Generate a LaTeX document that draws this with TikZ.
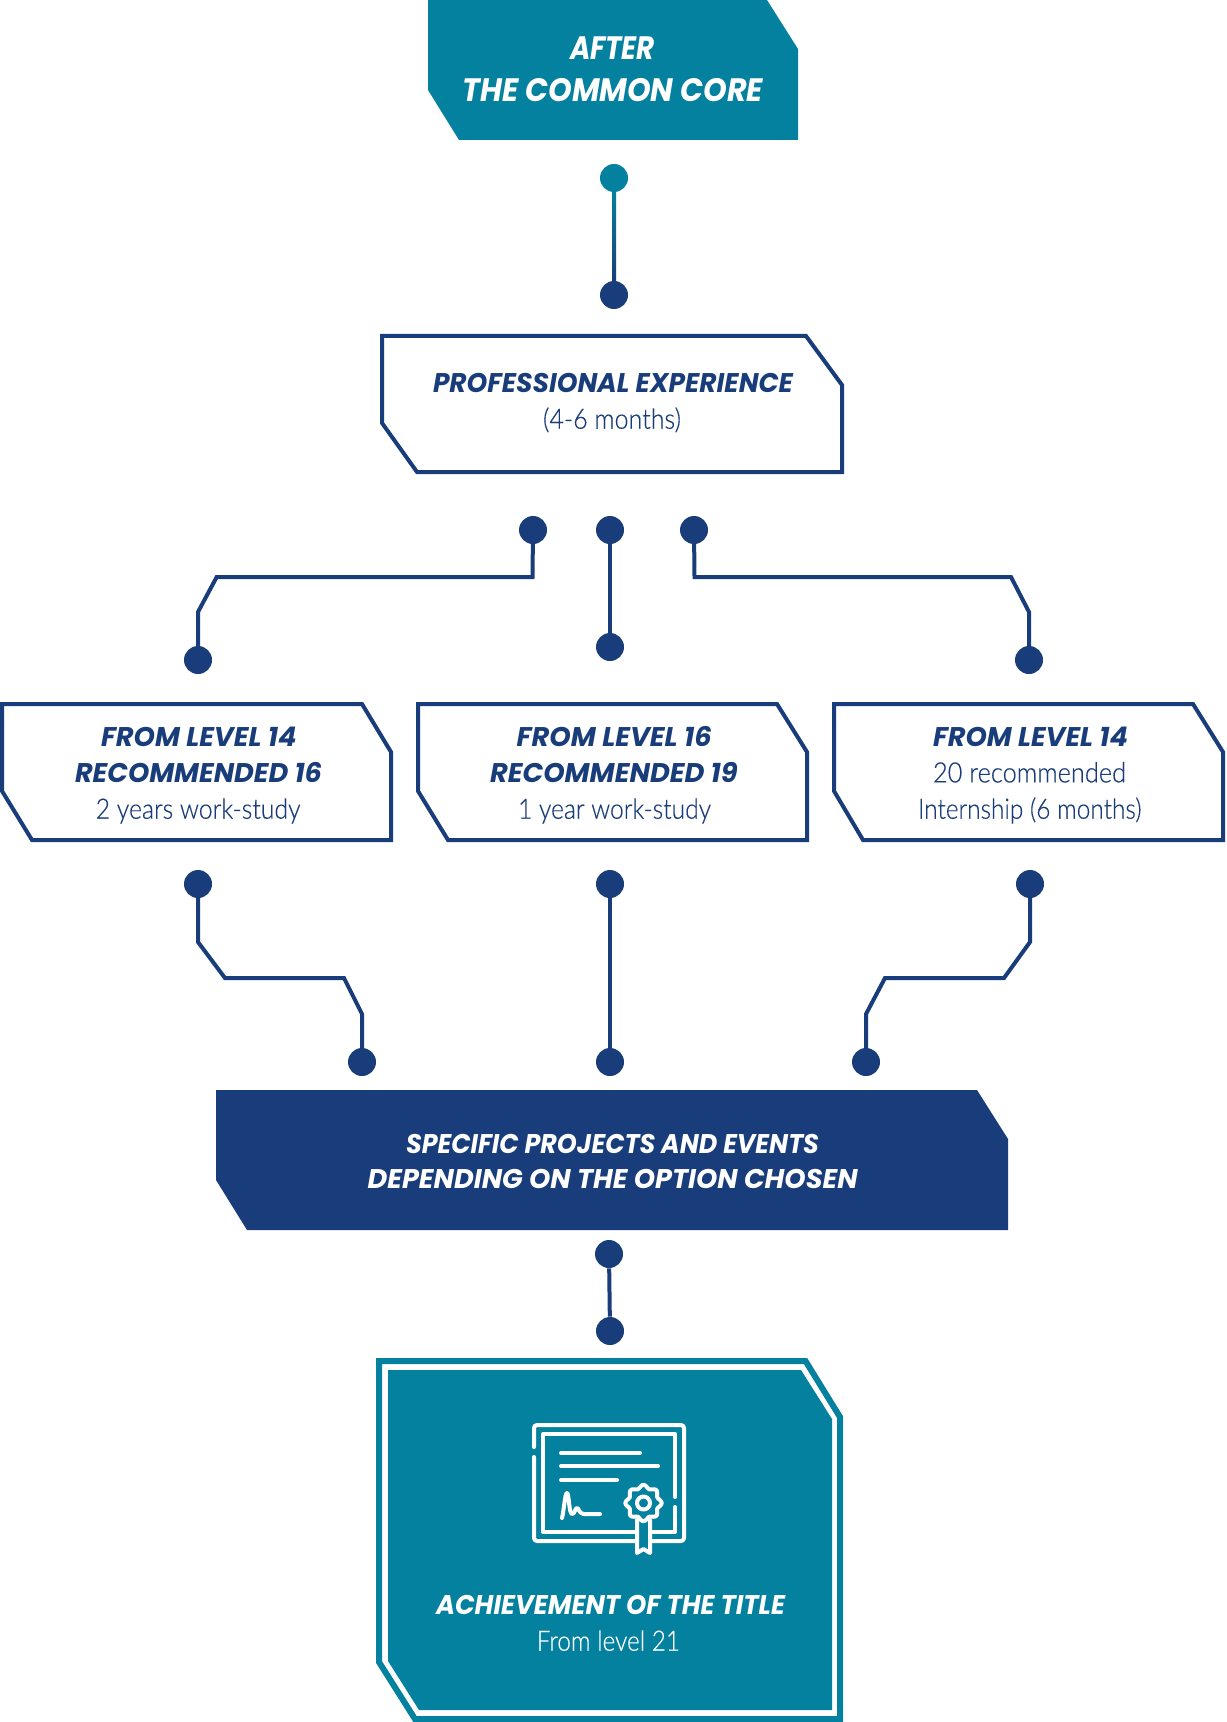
\documentclass[tikz,border=0pt]{standalone}
\usepackage{graphicx}
\usepackage{fontspec}
\usetikzlibrary{calc}
\newfontfamily\hvy{Poppins}
\newfontfamily\lgt[FakeBold=0.35]{Lato Light}
\definecolor{tealc}{HTML}{04819F}
\definecolor{navyc}{HTML}{193D7A}
\definecolor{midc}{HTML}{0F5F8C}
\newsavebox{\fitbx}
\newcommand{\fitw}[2]{\sbox{\fitbx}{#2}\pgfmathsetmacro{\fitr}{(#1)*0.5/\the\wd\fitbx}\scalebox{\fitr}[1]{\usebox{\fitbx}}}
% name, left x, right x, baseline, colour, font size (pt), text
\newcommand{\hlab}[7]{\node[lbl,text=#5] (#1) at ({(#2+#3)/2},#4) {\fitw{#3-#2}{\fontsize{#6}{#6}\hvy\bfseries\itshape #7}};}
\newcommand{\llab}[7]{\node[lbl,text=#5] (#1) at ({(#2+#3)/2},#4) {\fitw{#3-#2}{\fontsize{#6}{#6}\lgt #7}};}
\tikzset{
  lbl/.style={anchor=base,inner sep=0pt,outer sep=0pt},
  dotn/.style={circle,fill=navyc,draw=none,inner sep=0pt,minimum size=14pt},
  dott/.style={circle,fill=tealc,draw=none,inner sep=0pt,minimum size=14pt},
  conn/.style={draw=navyc,line width=2pt,miter limit=10},
  boxo/.style={draw=navyc,line width=2pt,fill=white,miter limit=10},
  ico/.style={draw=white,line width=2pt,line cap=round,line join=round}
}
\begin{document}
\begin{tikzpicture}[x=0.5pt,y=-0.5pt]
\useasboundingbox (0,0) rectangle (1226,1722);
% shapes
\fill[tealc] (428,0) -- (767,0) -- (798,49) -- (798,140) -- (459,140) -- (428,90) -- cycle;
\draw[boxo] (382,336) -- (806,336) -- (842,385) -- (842,472) -- (417,472) -- (382,423) -- cycle;
\draw[boxo] (2,704) -- (362,704) -- (391,752) -- (391,840) -- (32,840) -- (2,791) -- cycle;
\draw[boxo] (418,704) -- (777,704) -- (807,752) -- (807,840) -- (448,840) -- (418,791) -- cycle;
\draw[boxo] (834,704) -- (1193,704) -- (1223,752) -- (1223,840) -- (863,840) -- (834,791) -- cycle;
\fill[navyc] (216,1090) -- (977,1090) -- (1008,1139) -- (1008,1230) -- (247,1230) -- (216,1180) -- cycle;
\draw[draw=tealc,line width=3pt,miter limit=10] (379,1361) -- (805.5,1361) -- (840,1417) -- (840,1719) -- (415,1719) -- (379,1662) -- cycle;
\fill[tealc] (388,1370) -- (801,1370) -- (832,1419) -- (832,1710) -- (419,1710) -- (388,1661) -- cycle;
% dots
\node[dott] (a1) at (614,178) {};
\node[dotn] (a2) at (614,295) {};
\node[dotn] (b1) at (533,530) {};
\node[dotn] (b2) at (610,530) {};
\node[dotn] (b3) at (694,530) {};
\node[dotn] (c1) at (198,660) {};
\node[dotn] (c2) at (610,647) {};
\node[dotn] (c3) at (1029,660) {};
\node[dotn] (d1) at (198,884) {};
\node[dotn] (d2) at (610,884) {};
\node[dotn] (d3) at (1030,884) {};
\node[dotn] (e1) at (362,1062) {};
\node[dotn] (e2) at (610,1062) {};
\node[dotn] (e3) at (866,1062) {};
\node[dotn] (f1) at (609,1254) {};
\node[dotn] (f2) at (610,1331) {};
% connectors
\draw[draw=midc,line width=2pt] (a1) -- (a2);
\shade[top color=tealc,bottom color=navyc] ($(a1.south)+(-2,-2)$) rectangle ($(a2.north)+(2,2)$);
\draw[conn] (b1.center) -- (532.5,577) -- (216.7,577) -- (198,612) -- (c1.center);
\draw[conn] (b2) -- (c2);
\draw[conn] (b3.center) -- (694.5,577) -- (1011,577) -- (1029,612) -- (c3.center);
\draw[conn] (d1.center) -- (198,942) -- (225,978) -- (344,978) -- (362,1014) -- (e1.center);
\draw[conn] (d2) -- (e2);
\draw[conn] (d3.center) -- (1030,942) -- (1004,978) -- (885,978) -- (866,1014) -- (e3.center);
\draw[conn] (f1) -- (f2);
% certificate icon
\draw[ico,rounded corners=1.5pt] (534,1447) -- (534,1425) -- (684,1425) -- (684,1541) -- (534,1541) -- (534,1457);
\draw[ico] (675,1497) -- (675,1434) -- (543,1434) -- (543,1532) -- (675,1532) -- (675,1507);
\draw[ico] (561,1453) -- (640,1453);
\draw[ico] (561,1466) -- (658,1466);
\draw[ico] (561,1480) -- (617,1480);
\draw[ico] (562,1518) .. controls (564,1510) and (565,1493) .. (567,1493) .. controls (569,1493) and (569,1514) .. (572,1514) .. controls (575,1514) and (575,1508) .. (577,1508) .. controls (579,1508) and (579,1514) .. (584,1514) -- (600,1514);
\draw[ico,fill=tealc] (637,1520) -- (637,1553) -- (643.5,1549) -- (650,1553) -- (650,1520);
\draw[ico,fill=tealc] plot[domain=0:360,samples=145] ({643.5+(16.5+1.6*cos(8*\x))*cos(\x)},{1503+(16.5+1.6*cos(8*\x))*sin(\x)}) -- cycle;
\draw[ico] (643.5,1503) circle[radius=6.5];
% labels
\hlab{t1}{570}{655}{59.8}{white}{16.2}{AFTER}
\hlab{t2}{462.5}{763}{102}{white}{16.2}{THE COMMON CORE}
\hlab{t3}{433}{793}{392.5}{navyc}{13.5}{PROFESSIONAL EXPERIENCE}
\llab{t4}{543}{681}{428.7}{navyc}{14}{(4-6 months)}
\hlab{t5}{101}{296.5}{746.5}{navyc}{13.5}{FROM LEVEL 14}
\hlab{t6}{75}{322}{782.5}{navyc}{13.5}{RECOMMENDED 16}
\llab{t7}{95.7}{300.5}{818.7}{navyc}{14}{2 years work-study}
\hlab{t8}{516.7}{711.7}{746.5}{navyc}{13.5}{FROM LEVEL 16}
\hlab{t9}{490}{737.7}{782.5}{navyc}{13.5}{RECOMMENDED 19}
\llab{t10}{518}{711}{818.7}{navyc}{14}{1 year work-study}
\hlab{t11}{933}{1128}{746.5}{navyc}{13.5}{FROM LEVEL 14}
\llab{t12}{933}{1126}{782.4}{navyc}{14}{20 recommended}
\llab{t13}{918}{1141.5}{818.7}{navyc}{14}{Internship (6 months)}
\hlab{t14}{406}{819}{1153}{white}{13.5}{SPECIFIC PROJECTS AND EVENTS}
\hlab{t15}{367.7}{857.7}{1188.5}{white}{13.5}{DEPENDING ON THE OPTION CHOSEN}
\hlab{t16}{436}{785}{1614.5}{white}{13.5}{ACHIEVEMENT OF THE TITLE}
\llab{t17}{536.7}{680}{1650.7}{white}{14}{From level 21}
\end{tikzpicture}
\end{document}
